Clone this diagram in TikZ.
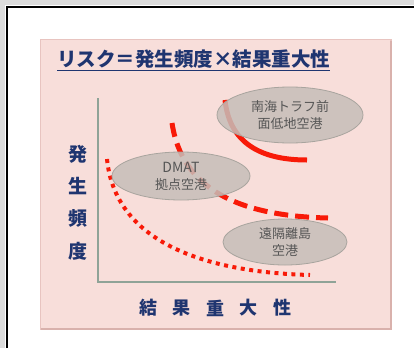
\documentclass[tikz,border=0pt]{standalone}
\usepackage{fontspec}
\usetikzlibrary{shapes.geometric}
\newfontfamily\cjk{Noto Sans CJK JP}
\definecolor{panelfill}{HTML}{F8DEDA}
\definecolor{panelshadow}{HTML}{D9B1AC}
\definecolor{paneledge}{HTML}{E8C4C0}
\definecolor{navy}{HTML}{1F3570}
\definecolor{axisc}{HTML}{8FA397}
\definecolor{riskred}{HTML}{F81A08}
\definecolor{ellfill}{HTML}{C6BEB9}
\definecolor{elldraw}{HTML}{A8A49E}
\definecolor{elltext}{HTML}{555555}
\definecolor{framegray}{HTML}{DCDCDC}
\tikzset{
  ell/.style={ellipse, fill=ellfill, fill opacity=0.85, text opacity=1, draw=elldraw, line width=0.8pt,
    inner sep=0pt, align=center, text=elltext, font=\cjk\fontsize{13}{17}\selectfont},
  axis/.style={draw=axisc, line width=2.5pt},
  ylab/.style={text=navy, font=\cjk\bfseries\fontsize{19}{19}\selectfont, inner sep=0pt},
  xlab/.style={text=navy, font=\cjk\bfseries\fontsize{18}{18}\selectfont, inner sep=0pt},
}
\begin{document}
\begin{tikzpicture}[x=1pt,y=-1pt]
\useasboundingbox (0,0) rectangle (414,348);
\fill[white] (0,0) rectangle (414,348);
\fill[framegray] (0,0) rectangle (414,5);
\fill[framegray] (0,0) rectangle (5,348);
\draw[black,line width=2pt] (6.5,348) -- (6.5,6.5) -- (414,6.5);
% panel
\fill[paneledge] (40,39) rectangle (392,330);
\fill[panelshadow] (41,41) rectangle (392,330);
\fill[panelfill] (41.2,40.2) rectangle (389.5,327.5);
% title
\node[anchor=west, inner sep=0pt, text=navy, font=\cjk\bfseries\fontsize{19.5}{20}\selectfont] (title) at (57,59) {リスク＝発生頻度×結果重大性};
\draw[navy, line width=1.3pt] ([yshift=-4pt]title.base west) -- ([yshift=-4pt]title.base east);
% axes
\coordinate (ytop) at (98,98);
\coordinate (orig) at (98,282);
\coordinate (xend) at (336,282);
\draw[axis] (ytop) -- (orig) -- (xend);
% axis labels
\node[ylab] (y1) at (78,154) {発};
\node[ylab] (y2) at (78,186) {生};
\node[ylab] (y3) at (78,218) {頻};
\node[ylab] (y4) at (78,251) {度};
\node[xlab] (x1) at (148,308) {結};
\node[xlab] (x2) at (181,308) {果};
\node[xlab] (x3) at (215,308) {重};
\node[xlab] (x4) at (248,308) {大};
\node[xlab] (x5) at (282,308) {性};
% curves
\draw[riskred, line width=5pt] (225,100) .. controls (230,148) and (268,160) .. (307,160);
\draw[riskred, line width=5pt, dash pattern=on 14pt off 7pt] (172,123) .. controls (182,190) and (240,216) .. (328,218);
\draw[riskred, line width=4pt, dash pattern=on 4pt off 4.5pt] (107,159) .. controls (115,240) and (200,272) .. (310,275);
% ellipses
\node[ell, minimum width=146pt, minimum height=56pt] (nankai) at (290,115) {南海トラフ前\\面低地空港};
\node[ell, minimum width=138pt, minimum height=48pt] (dmat) at (181,176) {\fontsize{14}{17}\selectfont DMAT\\拠点空港};
\node[ell, minimum width=124pt, minimum height=46pt] (ritou) at (285,242) {遠隔離島\\空港};
\end{tikzpicture}
\end{document}
